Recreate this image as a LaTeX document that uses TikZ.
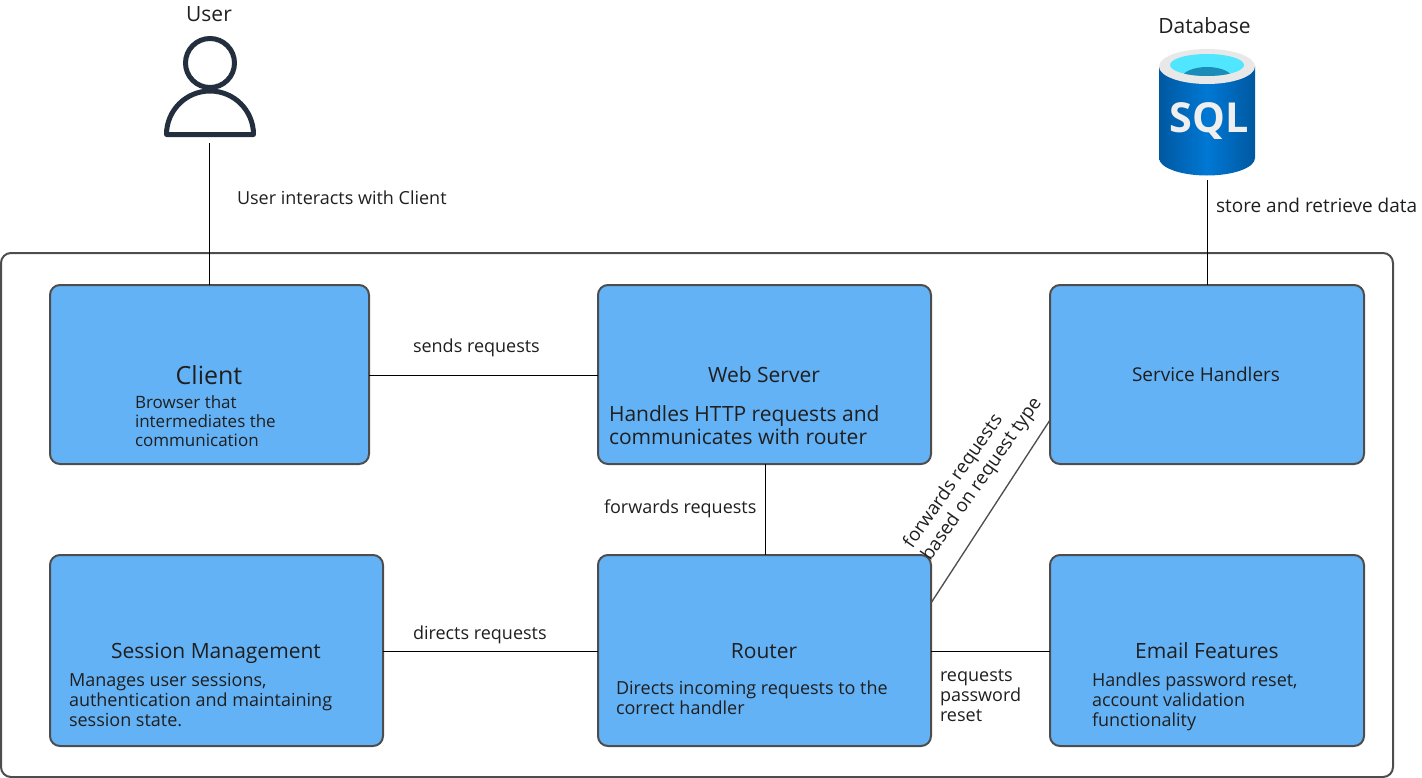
\documentclass[tikz,border=0pt]{standalone}
\usepackage{fontspec}
\setmainfont{Open Sans}
\usetikzlibrary{calc}
\definecolor{boxfill}{HTML}{64B2F6}
\definecolor{boxline}{HTML}{4D4D4D}
\definecolor{ink}{HTML}{1F1F1F}
\definecolor{usercol}{HTML}{232F3E}
\definecolor{dbedge}{HTML}{0058A0}
\definecolor{dbmid}{HTML}{0078D4}
\definecolor{dbrim}{HTML}{E8E8E8}
\definecolor{dbcyan}{HTML}{50E6FF}
\definecolor{dbdeep}{HTML}{1B8CB8}
\definecolor{dbtext}{HTML}{EFEFEF}
\newcommand{\fsz}[2]{\fontsize{#1}{#2}\selectfont}
\tikzset{
  x=0.75pt,y=-0.75pt,
  panel/.style={draw=boxline,line width=1.5pt,rounded corners=7.5pt,fill=boxfill,anchor=north west,inner sep=0pt,outer sep=0pt,minimum height=134.25pt},
  tall/.style={minimum height=143.25pt},
  link/.style={draw=black,line width=0.75pt},
  txt/.style={text=ink,inner sep=0pt,outer sep=0pt},
  lab/.style={txt,anchor=west,align=left,font=\fsz{13.5}{15}},
  head/.style={txt,font=\fsz{15.75}{18}},
  body/.style={txt,anchor=west,align=left,font=\fsz{12.75}{14.3}},
}
\begin{document}
\begin{tikzpicture}
\useasboundingbox (0,0) rectangle (1422,778);
\node[draw=boxline,line width=1.5pt,rounded corners=7.5pt,anchor=north west,minimum width=1044pt,minimum height=393pt,inner sep=0pt,outer sep=0pt] (system) at (1,253) {};
\node[panel,minimum width=239.25pt] (client) at (50,285) {};
\node[panel,minimum width=249.75pt] (web) at (598,285) {};
\node[panel,minimum width=235.5pt] (service) at (1050,285) {};
\node[panel,tall,minimum width=249.75pt] (session) at (50,555) {};
\node[panel,tall,minimum width=249.75pt] (router) at (598,555) {};
\node[panel,tall,minimum width=235.5pt] (email) at (1050,555) {};
% titles and bodies
\node[txt,font=\fsz{18.75}{22}] (clientT) at (209,375) {Client};
\node[body] (clientB) at (135,421) {Browser that\\intermediates the\\communication};
\node[head] (webT) at (764,375) {Web Server};
\node[txt,anchor=west,align=left,font=\fsz{15.75}{17.25}] (webB) at (609,425) {Handles HTTP requests and\\communicates with router};
\node[txt,font=\fsz{14.25}{16}] (serviceT) at (1206,374.5) {Service Handlers};
\node[head] (sessionT) at (216,653) {Session Management};
\node[body,font=\fsz{13.5}{15}] (sessionB) at (69,700) {Manages user sessions,\\authentication and maintaining\\session state.};
\node[head] (routerT) at (764,651) {Router};
\node[body,font=\fsz{13.5}{15}] (routerB) at (616,698) {Directs incoming requests to the\\correct handler};
\node[head] (emailT) at (1207,651) {Email Features};
\node[body,font=\fsz{13.5}{15}] (emailB) at (1092,702) {Handles password reset,\\account validation\\functionality};
% user icon
\node[txt,font=\fsz{15.75}{18}] (userT) at (209,14) {User};
\draw[usercol,line width=3.75pt] (210,63) circle[radius=24.5];
\draw[usercol,line width=3.75pt,line join=round] (166.5,134.5) arc[start angle=180,end angle=360,radius=43.5] -- cycle;
\coordinate (userP) at (209.5,143);
% database icon
\shade[left color=dbedge,right color=dbedge,middle color=dbmid] (1159,66) -- (1255,66) -- (1255,158) arc[start angle=0,end angle=180,x radius=48,y radius=17.5] -- cycle;
\fill[dbrim] (1207,66.5) ellipse[x radius=48,y radius=17.5];
\fill[dbcyan] (1207,65) ellipse[x radius=37,y radius=11];
\begin{scope}
\clip (1207,65) ellipse[x radius=37,y radius=11];
\fill[dbdeep] (1207,78) ellipse[x radius=25,y radius=11];
\end{scope}
\node[txt,font=\fsz{15.75}{18}] (dbT) at (1204.5,26) {Database};
\node[txt,text=dbtext,font=\fsz{31}{36}\bfseries] (sql) at (1209,121) {SQL};
\coordinate (dbP) at (1207.5,180);
% connectors
\draw[link] (userP) -- (userP |- client.north);
\draw[link] (dbP) -- (dbP |- service.north);
\draw[link] (client.east |- 0,375.5) -- (web.west |- 0,375.5);
\draw[link] (765.5,0 |- web.south) -- (765.5,0 |- router.north);
\draw[link] (session.east |- 0,651.5) -- (router.west |- 0,651.5);
\draw[link] (router.east |- 0,651.5) -- (email.west |- 0,651.5);
\draw[draw=boxline,line width=1pt] (router.east |- 0,603) -- (service.west |- 0,420);
% labels
\node[lab] (l1) at (237,197.5) {User interacts with Client};
\node[lab,font=\fsz{14.25}{15}] (l2) at (1216,205.5) {store and retrieve data};
\node[lab] (l3) at (413,347.5) {sends requests};
\node[lab] (l4) at (604,509) {forwards requests};
\node[lab] (l5) at (413,635) {directs requests};
\node[lab] (l6) at (940,696) {requests\\password\\reset};
\node[txt,align=left,rotate=55,font=\fsz{14}{16.5}] (l7) at (973,473) {forwards requests\\based on request type};
\end{tikzpicture}
\end{document}
